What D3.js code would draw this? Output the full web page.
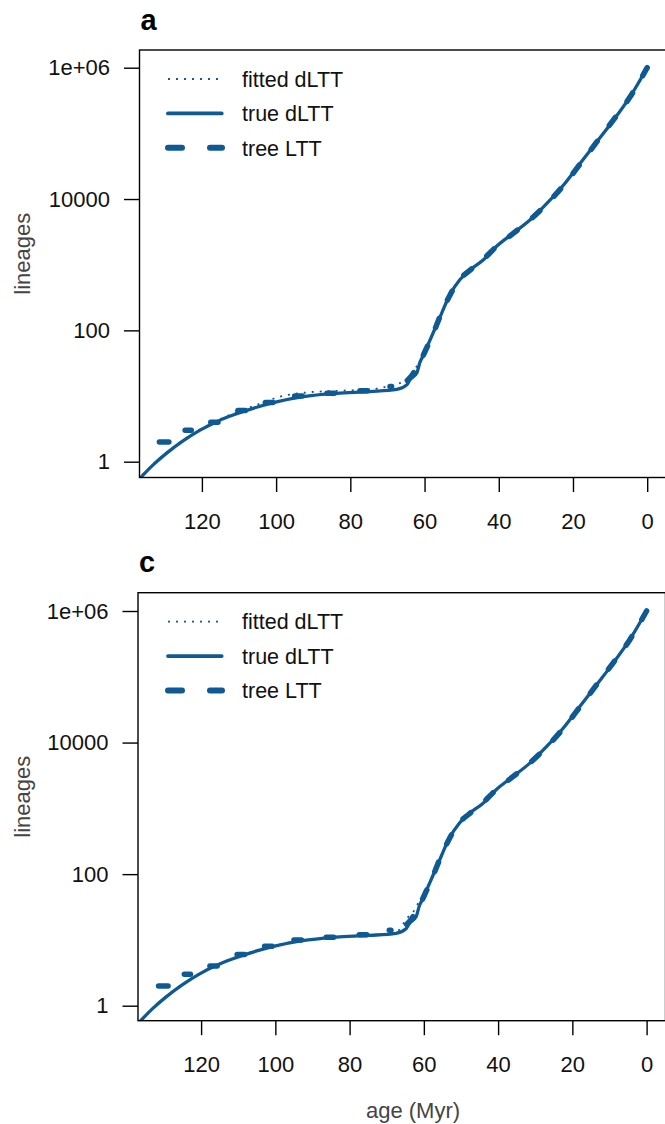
<!DOCTYPE html>
<meta charset="utf-8">
<head>
<title>dLTT panels</title>
<style>
body { margin: 0; background: #fff; }
svg text { font-family: "Liberation Sans", Arial, Helvetica, sans-serif; }
.tick-label { font-size: 22px; fill: #111; }
.axis-title { font-size: 22px; fill: #444; }
.panel-title { font-size: 29px; font-weight: bold; fill: #000; }
.legend text { font-size: 21.5px; fill: #111; }
</style>
</head>
<body>
<script src="https://cdn.jsdelivr.net/npm/d3@7"></script>
<script>

var width = 665,
    height = 1124,
    blue = "#0f5a94";

// true dLTT (same tree in both panels)
var trueAges = [137.5, 133, 129.5, 125, 120.5, 116, 111.6, 105, 99.9, 92.7, 83.7, 74.7, 67.5, 64.8, 63.9, 62.1, 61.2, 60.3, 59.4, 57.7, 55.4, 53.2, 50.5, 47.8, 44.2, 40.6, 36.1, 31.6, 27.1, 22.6, 18.1, 13.6, 9.1, 4.6, 0];
var trueLineages = [0.5, 0.91, 1.35, 2.09, 3.02, 4.07, 5.13, 6.8, 8.13, 9.77, 11.0, 11.7, 12.6, 14.8, 17.8, 22.4, 33.1, 41.7, 55.0, 91.2, 182, 347, 589, 832, 1175, 1905, 3020, 4786, 8511, 16218, 34674, 74131, 158489, 363078, 1000000];

// tree LTT: early part is a step function (age at which the count changes),
// later part dense enough to draw as a line
var treeStepAges = [132.2, 126.4, 119.5, 112.3, 104.8, 97.5, 89, 80.1, 71.2, 65.5];
var treeStepLineages = [2, 3, 4, 6, 8, 10, 11, 12, 14, 16];
var treeTailAges = [65.5, 64.3, 63.3, 62.5, 61.5, 60.5, 59.5, 58.5, 57.5, 55.5, 53.2, 50.5, 47.8, 44.2, 40.6, 36.1, 31.6, 27.1, 22.6, 18.1, 13.6, 9.1, 4.6, 0];
var treeTailLineages = [16, 18, 21, 25, 31, 40, 53, 70, 95, 180, 340, 600, 820, 1200, 1900, 3000, 4800, 8400, 16000, 34000, 74000, 160000, 360000, 1000000];

// fitted dLTT, panel a
var fittedAAges = [137.5, 133, 129.5, 125, 120.5, 116, 111.6, 105, 99, 92.7, 83.7, 74.7, 68.4, 65.7, 63.5, 62, 60.3, 59.4, 57.7, 55.4, 53.2, 50.5, 47.8, 44.2, 40.6, 36.1, 31.6, 27.1, 22.6, 18.1, 13.6, 9.1, 4.6, 0];
var fittedALineages = [0.52, 0.93, 1.38, 2.15, 3.1, 4.2, 5.4, 7.4, 9.77, 11.2, 12.0, 12.6, 14.8, 16.6, 20.9, 29, 41, 54, 90, 180, 345, 590, 830, 1180, 1900, 3000, 4800, 8500, 16200, 34600, 74000, 158000, 363000, 1000000];

// fitted dLTT, panel c
var fittedCAges = [137.5, 133, 129.5, 125, 120.5, 116, 111.6, 105, 99.9, 92.7, 83.7, 74.7, 67.5, 65.5, 64.2, 62.8, 61.5, 60.1, 58.5, 57.7, 55.4, 53.2, 50.5, 47.8, 44.2, 40.6, 36.1, 31.6, 27.1, 22.6, 18.1, 13.6, 9.1, 4.6, 0];
var fittedCLineages = [0.5, 0.92, 1.37, 2.12, 3.05, 4.1, 5.2, 6.9, 8.3, 9.9, 11.1, 11.8, 12.9, 17.8, 22.4, 26.9, 36.3, 47.9, 72, 91, 182, 347, 589, 832, 1175, 1905, 3020, 4786, 8511, 16218, 34674, 74131, 158489, 363078, 1000000];

var xTicks = [120, 100, 80, 60, 40, 20, 0];
var yTicks = [1, 100, 10000, 1e6];
var yTickLabels = ["1", "100", "10000", "1e+06"];
var legendLabels = ["fitted dLTT", "true dLTT", "tree LTT"];

var zip = function(a, b) { return a.map(function(d, i) { return [d, b[i]]; }); };

var svg = d3.select("body").append("svg")
    .attr("width", width)
    .attr("height", height);

var panels = [
  {id: "a", left: 139.5, right: 667, top: 50, bottom: 477.5, y1: 461.7, y1e6: 67.7,
   x120: 201.9, x0: 647.2, fitted: zip(fittedAAges, fittedALineages)},
  {id: "c", left: 138, right: 665.5, top: 592.7, bottom: 1020.7, y1: 1005.7, y1e6: 611,
   x120: 201.1, x0: 646.6, fitted: zip(fittedCAges, fittedCLineages)}
];

panels.forEach(function(p) {
  var x = d3.scaleLinear().domain([120, 0]).range([p.x120, p.x0]);
  var y = d3.scaleLog().domain([1, 1e6]).range([p.y1, p.y1e6]);

  var g = svg.append("g");

  g.append("clipPath").attr("id", "clip-" + p.id)
    .append("rect")
    .attr("x", p.left).attr("y", p.top)
    .attr("width", p.right - p.left).attr("height", p.bottom - p.top);

  var line = d3.line()
      .x(function(d) { return x(d[0]); })
      .y(function(d) { return y(d[1]); })
      .curve(d3.curveMonotoneX);

  var plot = g.append("g").attr("clip-path", "url(#clip-" + p.id + ")");

  // tree LTT, step part: one dash per level, risers fall in the gaps
  treeStepAges.slice(0, -1).forEach(function(a, i) {
    var xa = x(a), xb = x(treeStepAges[i + 1]);
    var len = i === 0 ? 15 : Math.min(13, xb - xa - 14);
    var start = i === 0 ? xa + 2.75 : (xa + xb - len) / 2;
    plot.append("line")
        .attr("x1", start).attr("x2", start + len - 5.5)
        .attr("y1", y(treeStepLineages[i])).attr("y2", y(treeStepLineages[i]))
        .attr("stroke", blue).attr("stroke-width", 5.5)
        .attr("stroke-linecap", "round");
  });

  // tree LTT, dense part
  plot.append("path")
      .attr("d", line(zip(treeTailAges, treeTailLineages)))
      .attr("fill", "none").attr("stroke", blue)
      .attr("stroke-width", 5.5).attr("stroke-linecap", "round")
      .attr("stroke-dasharray", "10,20")
      .attr("stroke-dashoffset", -4);

  // true dLTT
  plot.append("path")
      .attr("d", line(zip(trueAges, trueLineages)))
      .attr("fill", "none").attr("stroke", blue)
      .attr("stroke-width", 3.3);

  // fitted dLTT
  plot.append("path")
      .attr("d", line(p.fitted))
      .attr("fill", "none").attr("stroke", blue)
      .attr("stroke-width", 1.8)
      .attr("stroke-dasharray", "2,6");

  // box
  g.append("rect")
      .attr("x", p.left).attr("y", p.top)
      .attr("width", p.right - p.left).attr("height", p.bottom - p.top)
      .attr("fill", "none").attr("stroke", "#000").attr("stroke-width", 1.4);

  // x axis
  var xAxis = g.append("g").attr("transform", "translate(0," + p.bottom + ")")
      .call(d3.axisBottom(x).tickValues(xTicks).tickSize(14.5).tickPadding(21).tickFormat(d3.format("d")));
  xAxis.select(".domain").remove();
  xAxis.selectAll(".tick line").attr("stroke", "#000").attr("stroke-width", 1.4);
  xAxis.selectAll(".tick text").attr("class", "tick-label").attr("font-size", null).attr("font-family", null);

  // y axis
  var yAxis = g.append("g").attr("transform", "translate(" + p.left + ",0)")
      .call(d3.axisLeft(y).tickValues(yTicks).tickSize(15.5).tickPadding(14)
        .tickFormat(function(d, i) { return yTickLabels[i]; }));
  yAxis.select(".domain").remove();
  yAxis.selectAll(".tick line").attr("stroke", "#000").attr("stroke-width", 1.4);
  yAxis.selectAll(".tick text").attr("class", "tick-label").attr("font-size", null).attr("font-family", null);

  // y axis title
  g.append("text")
      .attr("class", "axis-title")
      .attr("text-anchor", "middle")
      .attr("transform", "translate(30," + ((p.top + p.bottom) / 2 - 10) + ") rotate(-90)")
      .text("lineages");

  // panel letter
  g.append("text")
      .attr("class", "panel-title")
      .attr("x", p.left + 1).attr("y", p.top - 20.5)
      .text(p.id);

  // legend
  var leg = g.append("g").attr("class", "legend");
  var rows = [
    {w: 1.8, dash: "2,6", cap: "butt"},
    {w: 3.8, dash: null, cap: "round"},
    {w: 6, dash: "14,28", cap: "round"}
  ];
  rows.forEach(function(r, i) {
    var ly = p.top + 29 + i * 34.4;
    leg.append("line")
        .attr("x1", 168).attr("x2", i === 2 ? 222 : 221.7)
        .attr("y1", ly).attr("y2", ly)
        .attr("stroke", blue).attr("stroke-width", r.w)
        .attr("stroke-linecap", r.cap)
        .attr("stroke-dasharray", r.dash);
    leg.append("text")
        .attr("x", 242).attr("y", ly).attr("dy", "0.36em")
        .text(legendLabels[i]);
  });
});

// x axis title (bottom only)
svg.append("text")
    .attr("class", "axis-title")
    .attr("text-anchor", "middle")
    .attr("x", 413).attr("y", 1110).attr("dy", "0.36em")
    .text("age (Myr)");

</script>
</body>
